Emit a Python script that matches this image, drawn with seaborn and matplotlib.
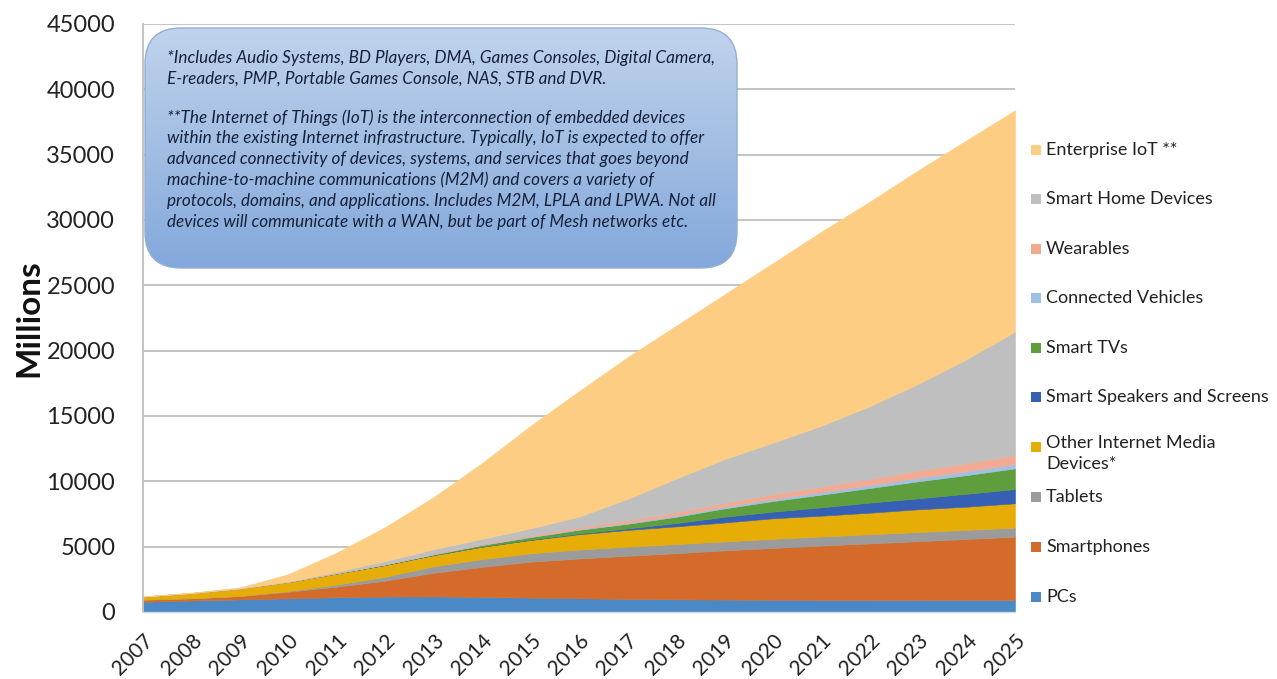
import numpy as np
import pandas as pd
import matplotlib
matplotlib.use("Agg")
import matplotlib.pyplot as plt
import seaborn as sns
from matplotlib.patches import FancyBboxPatch, Rectangle

# Installed base of connected devices, millions
years = list(range(2007, 2026))
pcs = [780, 880, 960, 1050, 1130, 1180, 1190, 1150, 1100, 1050, 1000, 970, 950, 940, 930, 930, 920, 920, 920]
smartphones = [170, 170, 260, 500, 810, 1220, 1810, 2300, 2750, 3050, 3300, 3530, 3770, 3960, 4150, 4320, 4500, 4670, 4840]
tablets = [0, 0, 10, 50, 160, 300, 500, 600, 640, 680, 700, 700, 680, 700, 700, 700, 700, 700, 690]
other_media = [230, 400, 570, 700, 850, 900, 860, 950, 1020, 1170, 1280, 1350, 1450, 1570, 1590, 1650, 1740, 1770, 1870]
smart_speakers = [0, 0, 0, 0, 0, 0, 0, 0, 20, 60, 120, 250, 440, 510, 640, 770, 840, 990, 1090]
smart_tvs = [0, 0, 0, 10, 20, 40, 50, 130, 200, 280, 350, 480, 640, 810, 970, 1120, 1300, 1430, 1580]
connected_vehicles = [0, 0, 0, 0, 5, 10, 20, 30, 45, 60, 80, 100, 130, 160, 190, 220, 260, 290, 330]
wearables = [0, 0, 0, 0, 0, 10, 30, 60, 100, 150, 200, 250, 300, 360, 420, 480, 560, 620, 690]
smart_home = [0, 0, 20, 30, 100, 240, 340, 380, 525, 800, 1620, 2570, 3340, 3940, 4660, 5560, 6630, 7960, 9440]
enterprise_iot = [20, 30, 60, 560, 1475, 2600, 4000, 5800, 7850, 9600, 10850, 11700, 12600, 13750, 14850, 15650, 16350, 16750, 16950]

series_names = ["PCs", "Smartphones", "Tablets", "Other Internet Media\nDevices*",
                "Smart Speakers and Screens", "Smart TVs", "Connected Vehicles",
                "Wearables", "Smart Home Devices", "Enterprise IoT **"]
series_values = [pcs, smartphones, tablets, other_media, smart_speakers, smart_tvs,
                 connected_vehicles, wearables, smart_home, enterprise_iot]
series_colors = ["#4A88C6", "#D46B2A", "#9B9B9B", "#E6AD06", "#3560B4",
                 "#5F9E3C", "#9FC1E4", "#F3AA92", "#BFBFBF", "#FDCD83"]
y_ticks = list(range(0, 45001, 5000))

note_1 = ("*Includes Audio Systems, BD Players, DMA, Games Consoles, Digital Camera,\n"
          "E-readers, PMP, Portable Games Console, NAS, STB and DVR.")
note_2 = ("**The Internet of Things (IoT) is the interconnection of embedded devices\n"
          "within the existing Internet infrastructure. Typically, IoT is expected to offer\n"
          "advanced connectivity of devices, systems, and services that goes beyond\n"
          "machine-to-machine communications (M2M) and covers a variety of\n"
          "protocols, domains, and applications. Includes M2M, LPLA and LPWA. Not all\n"
          "devices will communicate with a WAN, but be part of Mesh networks etc.")

df = pd.DataFrame(dict(zip(series_names, series_values)), index=years)

sns.set_theme(style="white")
plt.rcParams['font.family'] = ['Lato', 'DejaVu Sans']

W, H = 1277, 679
fig = plt.figure(figsize=(W / 100, H / 100), dpi=100)
ax_l, ax_r, ax_t, ax_b = 143, 1015, 24, 612
ax = fig.add_axes([ax_l / W, 1 - ax_b / H, (ax_r - ax_l) / W, (ax_b - ax_t) / H])

polys = ax.stackplot(df.index, df.T.values, colors=series_colors, linewidth=0)
for p, c in zip(polys, series_colors):
    p.set_edgecolor(c)
    p.set_linewidth(0.4)

ax.set_xlim(years[0], years[-1])
ax.set_ylim(0, 45000)
ax.set_yticks(y_ticks)
ax.set_yticklabels([str(v) for v in y_ticks], fontsize=17, color="#222222")
ax.set_xticks(years)
ax.set_xticklabels([str(y) for y in years], rotation=45, ha="right",
                   rotation_mode="anchor", fontsize=15, color="#222222")
ax.tick_params(axis="y", length=0, pad=20)
ax.tick_params(axis="x", length=0, pad=13)
ax.yaxis.grid(True, color="#BFBFBF", linewidth=1.3)
ax.set_axisbelow(True)
sns.despine(ax=ax, top=True, right=True)
ax.spines["left"].set_color("#BFBFBF")
ax.spines["left"].set_linewidth(1.3)
ax.spines["bottom"].set_color("#D0D8E8")
ax.spines["bottom"].set_linewidth(1.0)
ax.set_ylabel("Millions", fontsize=24, fontweight="bold", color="#111111", labelpad=2)

# Overlay in pixel coordinates for the note box and the legend
ov = fig.add_axes([0, 0, 1, 1], zorder=5)
ov.set_xlim(0, W)
ov.set_ylim(H, 0)
ov.axis("off")
ov.patch.set_alpha(0)

bx0, by0, bx1, by1 = 145, 28, 737, 268
rad = 36
box = FancyBboxPatch((bx0 + rad, by0 + rad), (bx1 - bx0) - 2 * rad, (by1 - by0) - 2 * rad,
                     boxstyle=f"round,pad={rad}", facecolor="none",
                     edgecolor="#93AED6", linewidth=1.0, zorder=3)
ov.add_patch(box)
grad = np.linspace(0, 1, 256)[:, None]
top_c = np.array(matplotlib.colors.to_rgb("#C0D3EC"))
bot_c = np.array(matplotlib.colors.to_rgb("#83A8DB"))
img = top_c[None, None, :] * (1 - grad[:, :, None]) + bot_c[None, None, :] * grad[:, :, None]
im = ov.imshow(np.repeat(img, 2, axis=1), extent=(bx0, bx1, by1, by0), aspect="auto", zorder=2)
clip = FancyBboxPatch((bx0 + rad, by0 + rad), (bx1 - bx0) - 2 * rad, (by1 - by0) - 2 * rad,
                      boxstyle=f"round,pad={rad}", transform=ov.transData)
im.set_clip_path(clip)
ov.set_xlim(0, W)
ov.set_ylim(H, 0)

note_kw = dict(fontsize=12.3, style="italic", color="#15213B", va="top", ha="left",
               linespacing=1.36, zorder=4)
ov.text(167, 50, note_1, **note_kw)
ov.text(167, 109, note_2, **note_kw)

# Legend, listed from the top layer down
leg_y = [150, 199, 249, 298, 348, 397, 447, 497, 547, 597]
for name, col, yy in zip(series_names[::-1], series_colors[::-1], leg_y):
    ov.add_patch(Rectangle((1031, yy - 5), 10, 10, facecolor=col, edgecolor="none"))
    if "\n" in name:
        ov.text(1046, yy - 12, name, fontsize=13, color="#222222", va="top",
                ha="left", linespacing=1.4)
    else:
        ov.text(1046, yy, name, fontsize=13, color="#222222", va="center", ha="left")

fig.savefig("out.png", dpi=100, facecolor="white")
